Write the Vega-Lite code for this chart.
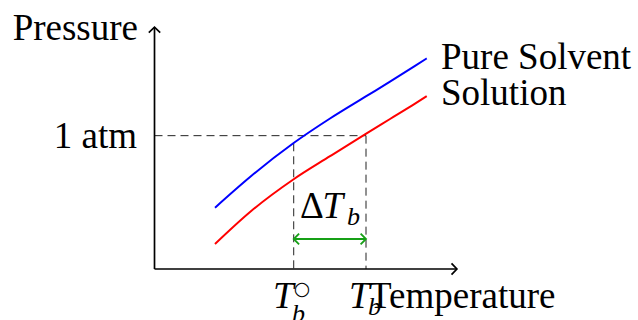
{
  "$schema": "https://vega.github.io/schema/vega-lite/v6.json",
  "width": 638,
  "height": 320,
  "autosize": "none",
  "padding": 0,
  "background": "white",
  "config": {"view": {"stroke": null}},
  "datasets": {
    "axes": [
      {"part": "xaxis", "i": 0, "x": 0, "y": 0},
      {"part": "xaxis", "i": 1, "x": 5.04, "y": 0},
      {"part": "yaxis", "i": 0, "x": 0, "y": 0},
      {"part": "yaxis", "i": 1, "x": 0, "y": 4.03},
      {"part": "xhead", "i": 0, "x": 4.95, "y": 0.095},
      {"part": "xhead", "i": 1, "x": 5.04, "y": 0},
      {"part": "xhead", "i": 2, "x": 4.95, "y": -0.095},
      {"part": "yhead", "i": 0, "x": -0.095, "y": 3.94},
      {"part": "yhead", "i": 1, "x": 0, "y": 4.03},
      {"part": "yhead", "i": 2, "x": 0.095, "y": 3.94}
    ],
    "curves": [
      {"series": "Pure Solvent", "x": 1.008, "y": 1.022},
      {"series": "Pure Solvent", "x": 1.592, "y": 1.533},
      {"series": "Pure Solvent", "x": 2.313, "y": 2.095},
      {"series": "Pure Solvent", "x": 2.925, "y": 2.508},
      {"series": "Pure Solvent", "x": 3.508, "y": 2.867},
      {"series": "Pure Solvent", "x": 3.925, "y": 3.122},
      {"series": "Pure Solvent", "x": 4.342, "y": 3.385},
      {"series": "Pure Solvent", "x": 4.537, "y": 3.51},
      {"series": "Solution", "x": 1.008, "y": 0.417},
      {"series": "Solution", "x": 1.592, "y": 0.95},
      {"series": "Solution", "x": 2.313, "y": 1.492},
      {"series": "Solution", "x": 2.925, "y": 1.88},
      {"series": "Solution", "x": 3.508, "y": 2.245},
      {"series": "Solution", "x": 3.925, "y": 2.5},
      {"series": "Solution", "x": 4.342, "y": 2.755},
      {"series": "Solution", "x": 4.537, "y": 2.88}
    ],
    "dashes": [
      {"part": "atm", "i": 0, "x": 0, "y": 2.222},
      {"part": "atm", "i": 1, "x": 3.525, "y": 2.222},
      {"part": "tb0", "i": 0, "x": 2.32, "y": 2.095},
      {"part": "tb0", "i": 1, "x": 2.32, "y": 0},
      {"part": "tb", "i": 0, "x": 3.525, "y": 2.222},
      {"part": "tb", "i": 1, "x": 3.525, "y": 0}
    ],
    "delta": [
      {"part": "shaft", "i": 0, "x": 2.32, "y": 0.5},
      {"part": "shaft", "i": 1, "x": 3.525, "y": 0.5},
      {"part": "left", "i": 0, "x": 2.41, "y": 0.59},
      {"part": "left", "i": 1, "x": 2.32, "y": 0.5},
      {"part": "left", "i": 2, "x": 2.41, "y": 0.41},
      {"part": "right", "i": 0, "x": 3.435, "y": 0.59},
      {"part": "right", "i": 1, "x": 3.525, "y": 0.5},
      {"part": "right", "i": 2, "x": 3.435, "y": 0.41}
    ],
    "labels": [
      {"role": "right", "text": "Pressure", "x": -0.275, "y": 3.817},
      {"role": "right", "text": "1 atm", "x": -0.292, "y": 2.017},
      {"role": "left", "text": "Pure Solvent", "x": 4.775, "y": 3.333},
      {"role": "left", "text": "Solution", "x": 4.775, "y": 2.733},
      {"role": "left", "text": "Temperature", "x": 3.575, "y": -0.65},
      {"role": "left", "text": "Δ", "x": 2.425, "y": 0.85},
      {"role": "italic", "text": "T", "x": 2.8, "y": 0.85},
      {"role": "sub", "text": "b", "x": 3.208, "y": 0.733},
      {"role": "italic", "text": "T", "x": 1.975, "y": -0.65},
      {"role": "sup", "text": "○", "x": 2.46, "y": -0.33},
      {"role": "sub", "text": "b", "x": 2.292, "y": -0.883},
      {"role": "italic", "text": "T", "x": 3.242, "y": -0.65},
      {"role": "sub", "text": "b", "x": 3.558, "y": -0.767}
    ]
  },
  "encoding": {
    "x": {"field": "x", "type": "quantitative", "scale": {"domain": [-2.575, 8.058], "nice": false, "zero": false}, "axis": null},
    "y": {"field": "y", "type": "quantitative", "scale": {"domain": [-0.85, 4.483], "nice": false, "zero": false}, "axis": null}
  },
  "layer": [
    {
      "data": {"name": "dashes"},
      "mark": {"type": "line", "color": "#222222", "strokeWidth": 1, "strokeDash": [8, 5]},
      "encoding": {"detail": {"field": "part"}, "order": {"field": "i"}}
    },
    {
      "data": {"name": "curves"},
      "mark": {"type": "line", "strokeWidth": 2, "interpolate": "monotone"},
      "encoding": {
        "color": {"field": "series", "type": "nominal", "scale": {"domain": ["Pure Solvent", "Solution"], "range": ["#0000ff", "#ff0000"]}, "legend": null}
      }
    },
    {
      "data": {"name": "axes"},
      "mark": {"type": "line", "color": "black", "strokeWidth": 1.7},
      "encoding": {"detail": {"field": "part"}, "order": {"field": "i"}}
    },
    {
      "data": {"name": "delta"},
      "mark": {"type": "line", "color": "#16a016", "strokeWidth": 1.8},
      "encoding": {"detail": {"field": "part"}, "order": {"field": "i"}}
    },
    {
      "data": {"name": "labels"},
      "transform": [{"filter": "datum.role === 'right'"}],
      "mark": {"type": "text", "font": "Liberation Serif", "fontSize": 37, "align": "right", "baseline": "alphabetic", "color": "black"},
      "encoding": {"text": {"field": "text"}}
    },
    {
      "data": {"name": "labels"},
      "transform": [{"filter": "datum.role === 'left'"}],
      "mark": {"type": "text", "font": "Liberation Serif", "fontSize": 37, "align": "left", "baseline": "alphabetic", "color": "black"},
      "encoding": {"text": {"field": "text"}}
    },
    {
      "data": {"name": "labels"},
      "transform": [{"filter": "datum.role === 'italic'"}],
      "mark": {"type": "text", "font": "Liberation Serif", "fontStyle": "italic", "fontSize": 37, "align": "left", "baseline": "alphabetic", "color": "black"},
      "encoding": {"text": {"field": "text"}}
    },
    {
      "data": {"name": "labels"},
      "transform": [{"filter": "datum.role === 'sub'"}],
      "mark": {"type": "text", "font": "Liberation Serif", "fontStyle": "italic", "fontSize": 26, "align": "left", "baseline": "alphabetic", "color": "black"},
      "encoding": {"text": {"field": "text"}}
    },
    {
      "data": {"name": "labels"},
      "transform": [{"filter": "datum.role === 'sup'"}],
      "mark": {"type": "text", "font": "DejaVu Sans", "fontSize": 19, "fontWeight": "bold", "align": "center", "baseline": "middle", "color": "black"},
      "encoding": {"text": {"field": "text"}}
    }
  ]
}
